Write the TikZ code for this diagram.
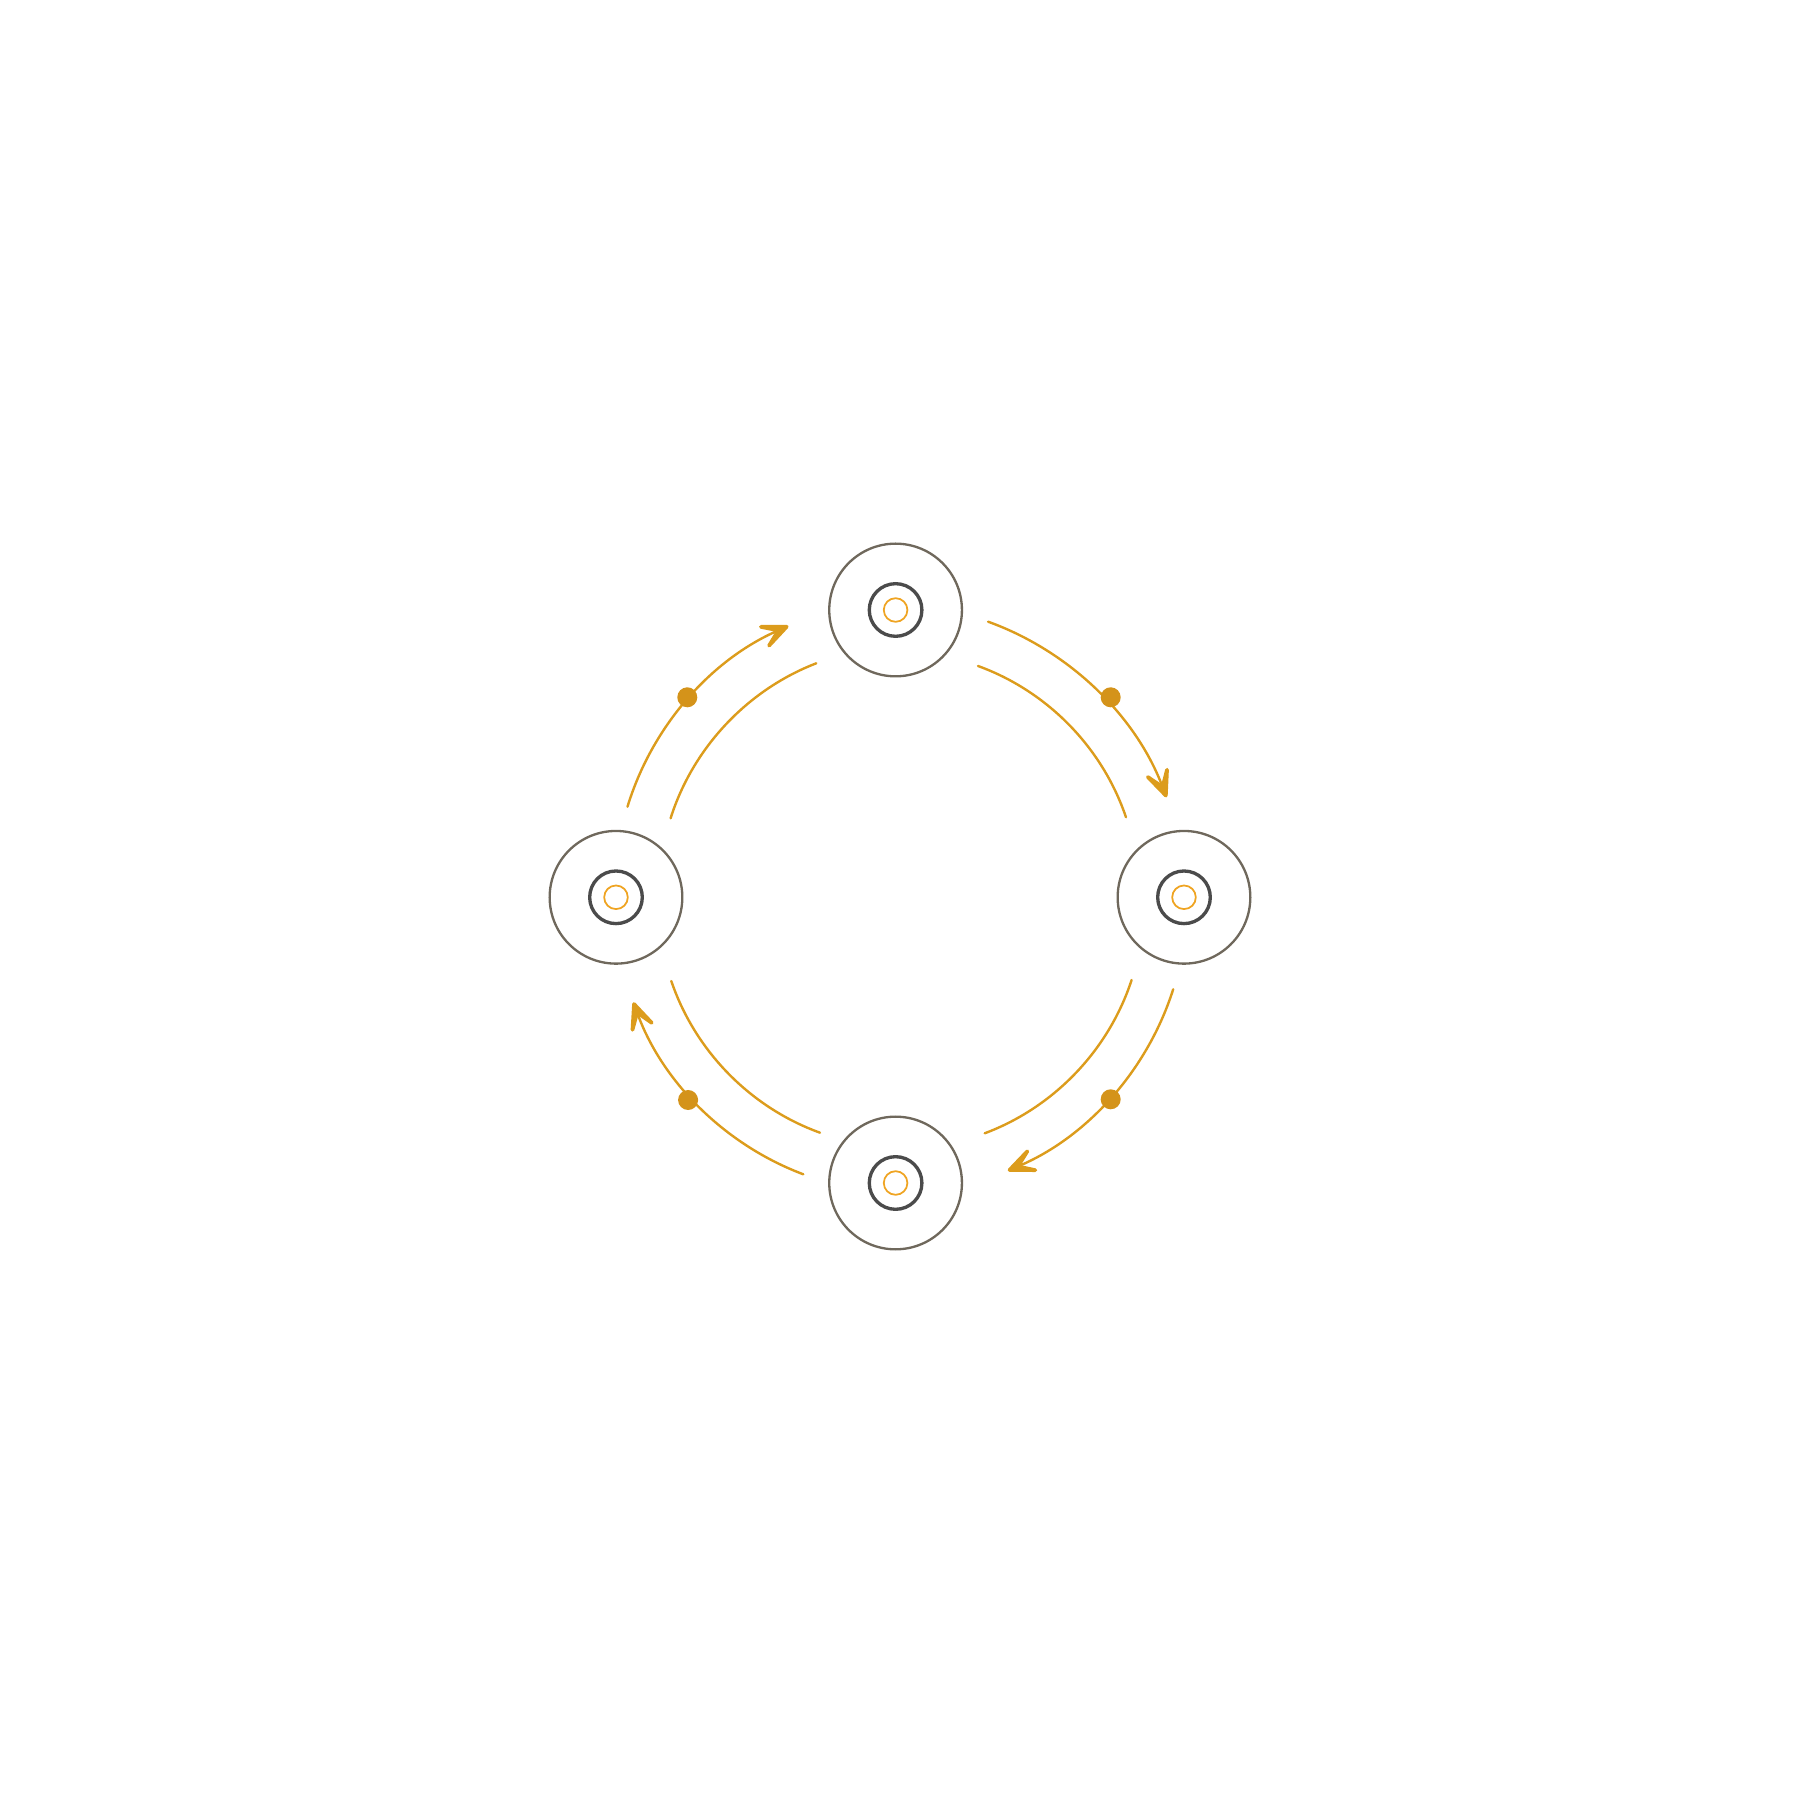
\documentclass[tikz,border=0pt]{standalone}
\usetikzlibrary{arrows.meta}
\definecolor{arcor}{HTML}{DC9C1C}
\definecolor{dotor}{HTML}{D4931A}
\definecolor{ringor}{HTML}{EFA422}
\definecolor{ringgray}{HTML}{6F685C}
\definecolor{ringdark}{HTML}{4B4B4B}
\tikzset{
  outerring/.style={circle,draw=ringgray,line width=0.66pt,minimum size=1.326cm,inner sep=0pt},
  innerring/.style={circle,draw=ringdark,line width=0.95pt,minimum size=0.526cm,inner sep=0pt},
  corering/.style={circle,draw=ringor,line width=0.5pt,minimum size=0.236cm,inner sep=0pt},
  arcline/.style={draw=arcor,line width=0.68pt,line cap=round},
  flowarrow/.style={arcline,-{Stealth[length=4.4mm,width=3.8mm,inset=2.7mm,round,line width=1.05pt]}},
  flowdot/.style={circle,fill=dotor,minimum size=0.2cm,inner sep=0pt}
}
\begin{document}
\begin{tikzpicture}[x=0.01cm,y=0.01cm]
\useasboundingbox (-899,-901.5) rectangle (901,898.5);
% stations
\foreach \n/\p in {T/{(-3.4,288.5)},R/{(285,1.2)},B/{(-3.4,-284.5)},L/{(-283,1.2)}}{
  \node[outerring] (\n) at \p {};
  \node[innerring] (\n i) at (\n) {};
  \node[corering] (\n c) at (\n) {};
}
% arc end points
\coordinate (ia1) at (-228.4,80.2);  \coordinate (ib1) at (-82.7,235.2);
\coordinate (ia2) at (79,232.5);     \coordinate (ib2) at (227,81.2);
\coordinate (ia3) at (232.6,-81.5);  \coordinate (ib3) at (85.7,-234.8);
\coordinate (ia4) at (-79,-234.2);   \coordinate (ib4) at (-227.7,-82.5);
\coordinate (oa1) at (-271.5,91.8);  \coordinate (ob1) at (-110.6,272.5);
\coordinate (oa2) at (89.1,276.8);   \coordinate (ob2) at (267.5,101.2);
\coordinate (oa3) at (274.2,-90.8);  \coordinate (ob3) at (108.8,-272.2);
\coordinate (oa4) at (-95.7,-275.8); \coordinate (ob4) at (-265.6,-103.8);
% inner arcs
\foreach \i in {1,2,3,4}{
  \draw[arcline] (ia\i) to[bend left=25.7,looseness=0.89] (ib\i);
}
% outer arcs with arrows
\foreach \i in {1,2,3,4}{
  \draw[flowarrow] (oa\i) to[bend left=24.7,looseness=0.89] (ob\i);
}
% dots
\foreach \p/\n in {{(-211.7,201.2)}/d1, {(211.7,201.2)}/d2, {(211.7,-200.8)}/d3, {(-210.9,-201.5)}/d4}{
  \node[flowdot] (\n) at \p {};
}
\end{tikzpicture}
\end{document}
